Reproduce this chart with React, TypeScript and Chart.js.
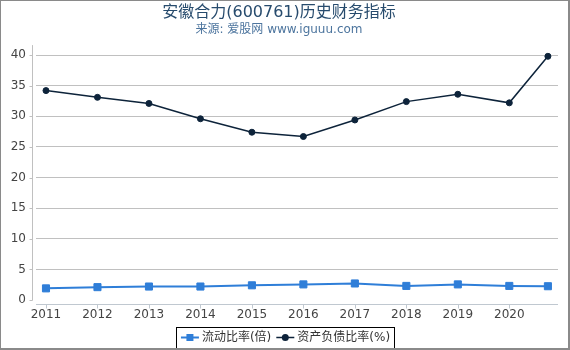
import { useEffect, useRef } from 'react';
import { Chart, registerables } from 'chart.js';

Chart.register(...registerables);

const titleText = '安徽合力(600761)历史财务指标';
const subtitleText = '来源: 爱股网 www.iguuu.com';
const periods = [2011, 2012, 2013, 2014, 2015, 2016, 2017, 2018, 2019, 2020, 2020.75];
const yearTicks = [2011, 2012, 2013, 2014, 2015, 2016, 2017, 2018, 2019, 2020];
const yTicks = [0, 5, 10, 15, 20, 25, 30, 35, 40];
const currentRatio = [1.9, 2.1, 2.2, 2.2, 2.4, 2.55, 2.7, 2.3, 2.55, 2.3, 2.25];
const debtRatio = [34.2, 33.1, 32.1, 29.6, 27.4, 26.7, 29.4, 32.4, 33.6, 32.2, 39.8];
const seriesNames = ['流动比率(倍)', '资产负债比率(%)'];
const seriesColors = ['#2f7ed8', '#0d233a'];
const FONT = '"DejaVu Sans", "Noto Sans CJK SC", sans-serif';

function drawIcon(g: CanvasRenderingContext2D, x: number, y: number, color: string, kind: 'square' | 'circle') {
  g.save();
  g.strokeStyle = color;
  g.lineWidth = kind === 'square' ? 2 : 1.5;
  g.beginPath();
  g.moveTo(x, y);
  g.lineTo(x + 18, y);
  g.stroke();
  g.fillStyle = color;
  if (kind === 'square') {
    g.fillRect(x + 5.5, y - 3.5, 7, 7);
  } else {
    g.beginPath();
    g.arc(x + 9, y, 3.5, 0, Math.PI * 2);
    g.fill();
  }
  g.restore();
}

const decor = {
  id: 'decor',
  afterDraw(chart: any) {
    const { ctx, chartArea, scales } = chart;
    const ys = scales.y;
    const xs = scales.x;
    ctx.save();
    ctx.strokeStyle = '#c0c0c0';
    ctx.lineWidth = 1;
    const ax = Math.round(chartArea.left - 4) + 0.5;
    const y0 = ys.getPixelForValue(0);
    ctx.beginPath();
    ctx.moveTo(ax, chartArea.top);
    ctx.lineTo(ax, Math.round(y0) + 0.5);
    for (const v of yTicks) {
      const py = Math.round(ys.getPixelForValue(v)) + 0.5;
      ctx.moveTo(ax - 3, py);
      ctx.lineTo(ax, py);
    }
    ctx.stroke();
    const bx = Math.round(chartArea.bottom + 4) + 0.5;
    ctx.strokeStyle = '#c0c8d0';
    ctx.beginPath();
    ctx.moveTo(chartArea.left, bx);
    ctx.lineTo(chartArea.right, bx);
    for (const v of yearTicks) {
      const px = Math.round(xs.getPixelForValue(v)) + 0.5;
      ctx.moveTo(px, bx);
      ctx.lineTo(px, bx + 4);
    }
    ctx.stroke();

    // legend
    ctx.font = '12px ' + FONT;
    const w1 = ctx.measureText(seriesNames[0]).width;
    const w2 = ctx.measureText(seriesNames[1]).width;
    const total = 18 + 3 + w1 + 5 + 18 + 3 + w2;
    const start = 285.5 - total / 2;
    const ly = 337.5;
    drawIcon(ctx, start, ly, seriesColors[0], 'square');
    ctx.fillStyle = '#333';
    ctx.textBaseline = 'middle';
    ctx.textAlign = 'left';
    ctx.fillText(seriesNames[0], start + 21, ly);
    const s2 = start + 21 + w1 + 5;
    drawIcon(ctx, s2, ly, seriesColors[1], 'circle');
    ctx.fillStyle = '#333';
    ctx.fillText(seriesNames[1], s2 + 21, ly);
    ctx.strokeStyle = '#000';
    ctx.lineWidth = 1;
    ctx.strokeRect(Math.round(start - 5) + 0.5, 327.5, Math.round(total + 9), 22);

    // outer border
    ctx.fillStyle = '#8a8a8a';
    const W = chart.width, H = chart.height;
    ctx.fillRect(0, 0, W, 1);
    ctx.fillRect(0, 0, 1, H);
    ctx.fillRect(W - 2, 0, 2, H);
    ctx.fillRect(0, H - 2, W, 2);
    ctx.restore();
  },
};

export default function App() {
  const ref = useRef<HTMLCanvasElement | null>(null);
  useEffect(() => {
    document.body.style.margin = '0';
    const chart = new Chart(ref.current!, {
      type: 'line',
      data: {
        datasets: [
          {
            label: seriesNames[0],
            data: periods.map((p, i) => ({ x: p, y: currentRatio[i] })),
            borderColor: seriesColors[0],
            backgroundColor: seriesColors[0],
            borderWidth: 2,
            pointStyle: 'rect',
            pointRadius: 5,
            pointBorderWidth: 1,
            pointBorderColor: seriesColors[0],
            tension: 0,
          },
          {
            label: seriesNames[1],
            data: periods.map((p, i) => ({ x: p, y: debtRatio[i] })),
            borderColor: seriesColors[1],
            backgroundColor: seriesColors[1],
            borderWidth: 1.5,
            pointStyle: 'circle',
            pointRadius: 3,
            pointBorderWidth: 1,
            pointBorderColor: seriesColors[1],
            tension: 0,
          },
        ],
      },
      options: {
        animation: false,
        responsive: false,
        maintainAspectRatio: false,
        layout: { padding: { left: 0, right: 12, top: 0, bottom: 19.6 } },
        font: { family: FONT },
        plugins: {
          title: {
            display: true,
            text: titleText,
            color: '#274b6d',
            font: { size: 16, weight: 'normal', family: FONT },
            padding: { top: 3, bottom: 0 },
          },
          subtitle: {
            display: true,
            text: subtitleText,
            color: '#4d759e',
            font: { size: 12, weight: 'normal', family: FONT },
            padding: { top: 0.5, bottom: 8 },
          },
          legend: { display: false },
          tooltip: { enabled: false },
        },
        scales: {
          x: {
            type: 'linear',
            min: 2010.806,
            max: 2020.946,
            grid: { display: false, drawTicks: false },
            border: { display: false },
            afterBuildTicks: (s: any) => {
              s.ticks = yearTicks.map((v) => ({ value: v }));
            },
            ticks: {
              color: '#444',
              padding: 8,
              maxRotation: 0,
              autoSkip: false,
              font: { size: 12 },
              callback: (v: any) => String(v),
            },
          },
          y: {
            min: 0,
            max: 41.63,
            grid: {
              drawTicks: false,
              color: (c: any) => (c.tick && c.tick.value === 0 ? 'rgba(0,0,0,0)' : '#c0c0c0'),
            },
            border: { display: false },
            afterBuildTicks: (s: any) => {
              s.ticks = yTicks.map((v) => ({ value: v }));
            },
            afterFit: (s: any) => {
              s.width = 36;
            },
            ticks: {
              color: '#444',
              padding: 10,
              font: { size: 12 },
              callback: (v: any) => String(v),
            },
          },
        },
      },
      plugins: [decor],
    });
    return () => chart.destroy();
  }, []);
  return (
    <div style={{ position: 'absolute', left: 0, top: 0, width: 570, height: 350 }}>
      <canvas ref={ref} width={570} height={350} style={{ display: 'block', width: 570, height: 350 }} />
    </div>
  );
}
